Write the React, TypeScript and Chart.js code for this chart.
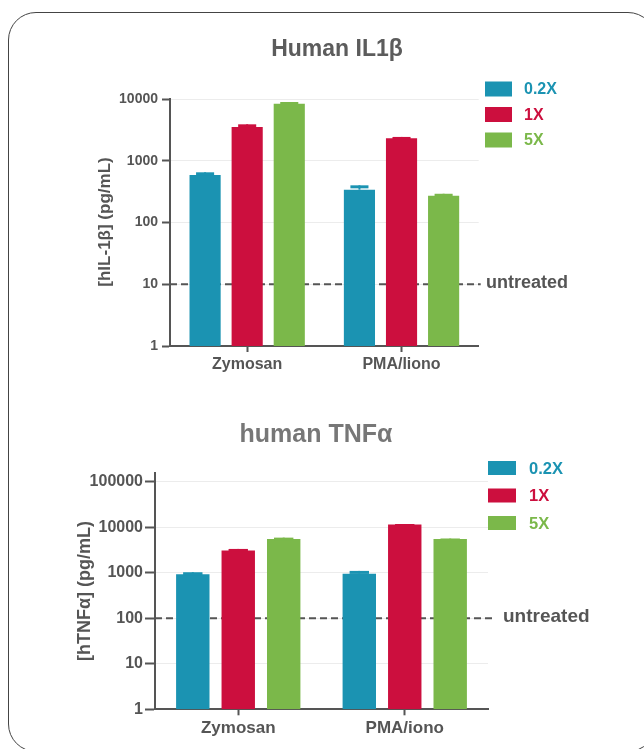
import React, { useEffect, useRef } from "react";
import { Chart, registerables } from "chart.js";

Chart.register(...registerables);

// ---------- data ----------
const seriesLabels = ["0.2X", "1X", "5X"];
const seriesColors = ["#1b93b2", "#cc0f3e", "#7bb84a"];

const il1bCategories = ["Zymosan", "PMA/liono"];
const il1b02 = [588, 340];
const il1b1 = [3520, 2310];
const il1b5 = [8390, 272];
const il1bErr02 = [62, 60];
const il1bErr1 = [370, 120];
const il1bErr5 = [550, 20];
const il1bTicks = [1, 10, 100, 1000, 10000];
const il1bUntreated = 10;

const tnfCategories = ["Zymosan", "PMA/iono"];
const tnf02 = [927, 955];
const tnf1 = [3060, 11400];
const tnf5 = [5530, 5530];
const tnfErr02 = [98, 141];
const tnfErr1 = [270, 350];
const tnfErr5 = [370, 120];
const tnfTicks = [1, 10, 100, 1000, 10000, 100000];
const tnfUntreated = 100;

const FONT = "'Liberation Sans', Arial, Helvetica, sans-serif";

const overlay = {
  id: "overlay",
  beforeDatasetsDraw(chart: any, _args: any, o: any) {
    const { ctx, chartArea } = chart;
    const y = chart.scales.y.getPixelForValue(o.untreated);
    ctx.save();
    ctx.strokeStyle = "#555";
    ctx.lineWidth = 2;
    ctx.setLineDash([7, 4]);
    ctx.beginPath();
    ctx.moveTo(chartArea.left, y);
    ctx.lineTo(chartArea.right + o.dashExtra, y);
    ctx.stroke();
    ctx.restore();
  },
  afterDatasetsDraw(chart: any, _args: any, o: any) {
    const { ctx } = chart;
    const ys = chart.scales.y;
    ctx.save();
    chart.data.datasets.forEach((ds: any, i: number) => {
      const meta = chart.getDatasetMeta(i);
      meta.data.forEach((bar: any, j: number) => {
        const v = ds.data[j];
        const e = o.errors[i][j];
        const yTop = ys.getPixelForValue(v + e);
        ctx.strokeStyle = ds.backgroundColor;
        ctx.lineWidth = 2;
        ctx.beginPath();
        ctx.moveTo(bar.x, bar.y);
        ctx.lineTo(bar.x, yTop);
        ctx.stroke();
        const cw = bar.width * 0.58;
        ctx.lineWidth = 3;
        ctx.beginPath();
        ctx.moveTo(bar.x - cw / 2, yTop + 1.5);
        ctx.lineTo(bar.x + cw / 2, yTop + 1.5);
        ctx.stroke();
      });
    });
    ctx.restore();
  },
  afterDraw(chart: any, _args: any, o: any) {
    const { ctx } = chart;
    const ys = chart.scales.y;
    ctx.save();
    // title
    ctx.fillStyle = o.titleColor;
    ctx.font = `bold ${o.titleSize}px ${FONT}`;
    ctx.textAlign = "center";
    ctx.textBaseline = "alphabetic";
    ctx.fillText(o.title, o.titleX, o.titleY);
    // y title
    ctx.save();
    ctx.translate(o.yTitleX, o.yTitleY);
    ctx.rotate(-Math.PI / 2);
    ctx.fillStyle = "#555";
    ctx.font = `bold ${o.yTitleSize}px ${FONT}`;
    ctx.textAlign = "center";
    ctx.textBaseline = "middle";
    ctx.fillText(o.yTitle, 0, 0);
    ctx.restore();
    // legend
    chart.data.datasets.forEach((ds: any, i: number) => {
      const cy = o.legY + i * o.legStep;
      ctx.fillStyle = ds.backgroundColor;
      ctx.fillRect(o.legX, cy - o.boxH / 2, o.boxW, o.boxH);
      ctx.font = `bold ${o.legSize}px ${FONT}`;
      ctx.textAlign = "left";
      ctx.textBaseline = "middle";
      ctx.fillText(ds.label, o.legTextX, cy + 1);
    });
    // untreated label
    const uy = ys.getPixelForValue(o.untreated);
    ctx.fillStyle = "#555";
    ctx.font = `bold ${o.untreatedSize}px ${FONT}`;
    ctx.textAlign = "left";
    ctx.textBaseline = "middle";
    ctx.fillText("untreated", o.untreatedX, uy - 1);
    ctx.restore();
  },
};

type PanelProps = {
  top: number;
  height: number;
  categories: string[];
  values: number[][];
  errors: number[][];
  ticks: number[];
  yMax: number;
  area: { left: number; right: number; top: number; bottom: number };
  cp: number;
  bp: number;
  tickFont: number;
  xFont: number;
  yTickLen: number;
  yTickPad: number;
  overlayOpts: any;
};

function Panel(p: PanelProps) {
  const ref = useRef<HTMLCanvasElement | null>(null);
  useEffect(() => {
    if (!ref.current) return;
    const W = 644;
    const chart = new Chart(ref.current, {
      type: "bar",
      data: {
        labels: p.categories,
        datasets: seriesLabels.map((lab, i) => ({
          label: lab,
          data: p.values[i],
          backgroundColor: seriesColors[i],
          borderWidth: 0,
          categoryPercentage: p.cp,
          barPercentage: p.bp,
        })),
      },
      options: {
        animation: false,
        responsive: false,
        maintainAspectRatio: false,
        layout: {
          padding: {
            left: 0,
            right: W - p.area.right,
            top: p.area.top,
            bottom: 0,
          },
        },
        plugins: {
          legend: { display: false },
          title: { display: false },
          tooltip: { enabled: false },
          overlay: { ...p.overlayOpts, errors: p.errors },
        } as any,
        scales: {
          x: {
            offset: true,
            grid: {
              offset: false,
              drawOnChartArea: false,
              drawTicks: true,
              tickLength: 6,
              tickColor: "#555",
              tickWidth: 2,
            },
            border: { display: true, color: "#555", width: 2 },
            ticks: {
              color: "#555",
              padding: 3,
              font: { family: FONT, size: p.xFont, weight: "bold" },
            },
            afterFit: (s: any) => {
              s.height = p.height - p.area.bottom;
            },
          },
          y: {
            type: "logarithmic",
            min: 1,
            max: p.yMax,
            grid: {
              color: "#ececec",
              lineWidth: 1,
              tickLength: p.yTickLen,
              tickColor: "#555",
              tickWidth: 2,
            },
            border: { display: true, color: "#555", width: 2 },
            ticks: {
              color: "#555",
              padding: p.yTickPad,
              font: { family: FONT, size: p.tickFont, weight: "bold" },
              callback: (v: any) => String(v),
            },
            afterBuildTicks: (s: any) => {
              s.ticks = p.ticks.map((v) => ({ value: v }));
            },
            afterFit: (s: any) => {
              s.width = p.area.left;
            },
          },
        } as any,
      },
      plugins: [overlay as any],
    });
    return () => chart.destroy();
  }, []);
  return (
    <canvas
      ref={ref}
      width={644}
      height={p.height}
      style={{
        position: "absolute",
        left: 0,
        top: p.top,
        width: 644,
        height: p.height,
      }}
    />
  );
}

export default function App() {
  const top2 = 390;
  return (
    <div
      style={{
        position: "absolute",
        left: 0,
        top: 0,
        width: 644,
        height: 749,
        overflow: "hidden",
        background: "#fff",
      }}
    >
      <div
        style={{
          position: "absolute",
          left: 8,
          top: 12,
          width: 648,
          height: 740,
          border: "1.5px solid #444",
          borderRadius: 28,
          boxSizing: "border-box",
        }}
      />
      <Panel
        top={0}
        height={390}
        categories={il1bCategories}
        values={[il1b02, il1b1, il1b5]}
        errors={[il1bErr02, il1bErr1, il1bErr5]}
        ticks={il1bTicks}
        yMax={10000}
        area={{ left: 170, right: 478.7, top: 99, bottom: 346 }}
        cp={0.818}
        bp={0.74}
        tickFont={14}
        xFont={16}
        yTickLen={8}
        yTickPad={4}
        overlayOpts={{
          untreated: il1bUntreated,
          dashExtra: 2,
          title: "Human IL1β",
          titleX: 337,
          titleY: 56,
          titleSize: 23,
          titleColor: "#5c5c5c",
          yTitle: "[hIL-1β] (pg/mL)",
          yTitleX: 105,
          yTitleY: 222,
          yTitleSize: 17,
          legX: 485,
          legTextX: 524,
          legY: 89,
          legStep: 25.5,
          boxW: 27,
          boxH: 15,
          legSize: 16,
          untreatedX: 486,
          untreatedSize: 18,
        }}
      />
      <Panel
        top={top2}
        height={359}
        categories={tnfCategories}
        values={[tnf02, tnf1, tnf5]}
        errors={[tnfErr02, tnfErr1, tnfErr5]}
        ticks={tnfTicks}
        yMax={155000}
        area={{ left: 155, right: 488, top: 473 - top2, bottom: 709.3 - top2 }}
        cp={0.819}
        bp={0.735}
        tickFont={16}
        xFont={17}
        yTickLen={10}
        yTickPad={2}
        overlayOpts={{
          untreated: tnfUntreated,
          dashExtra: 4,
          title: "human TNFα",
          titleX: 316,
          titleY: 441.5 - top2,
          titleSize: 25,
          titleColor: "#777",
          yTitle: "[hTNFα] (pg/mL)",
          yTitleX: 85,
          yTitleY: 591 - top2,
          yTitleSize: 18,
          legX: 488,
          legTextX: 529,
          legY: 468 - top2,
          legStep: 27.5,
          boxW: 28,
          boxH: 14,
          legSize: 16.5,
          untreatedX: 503,
          untreatedSize: 19,
        }}
      />
    </div>
  );
}
